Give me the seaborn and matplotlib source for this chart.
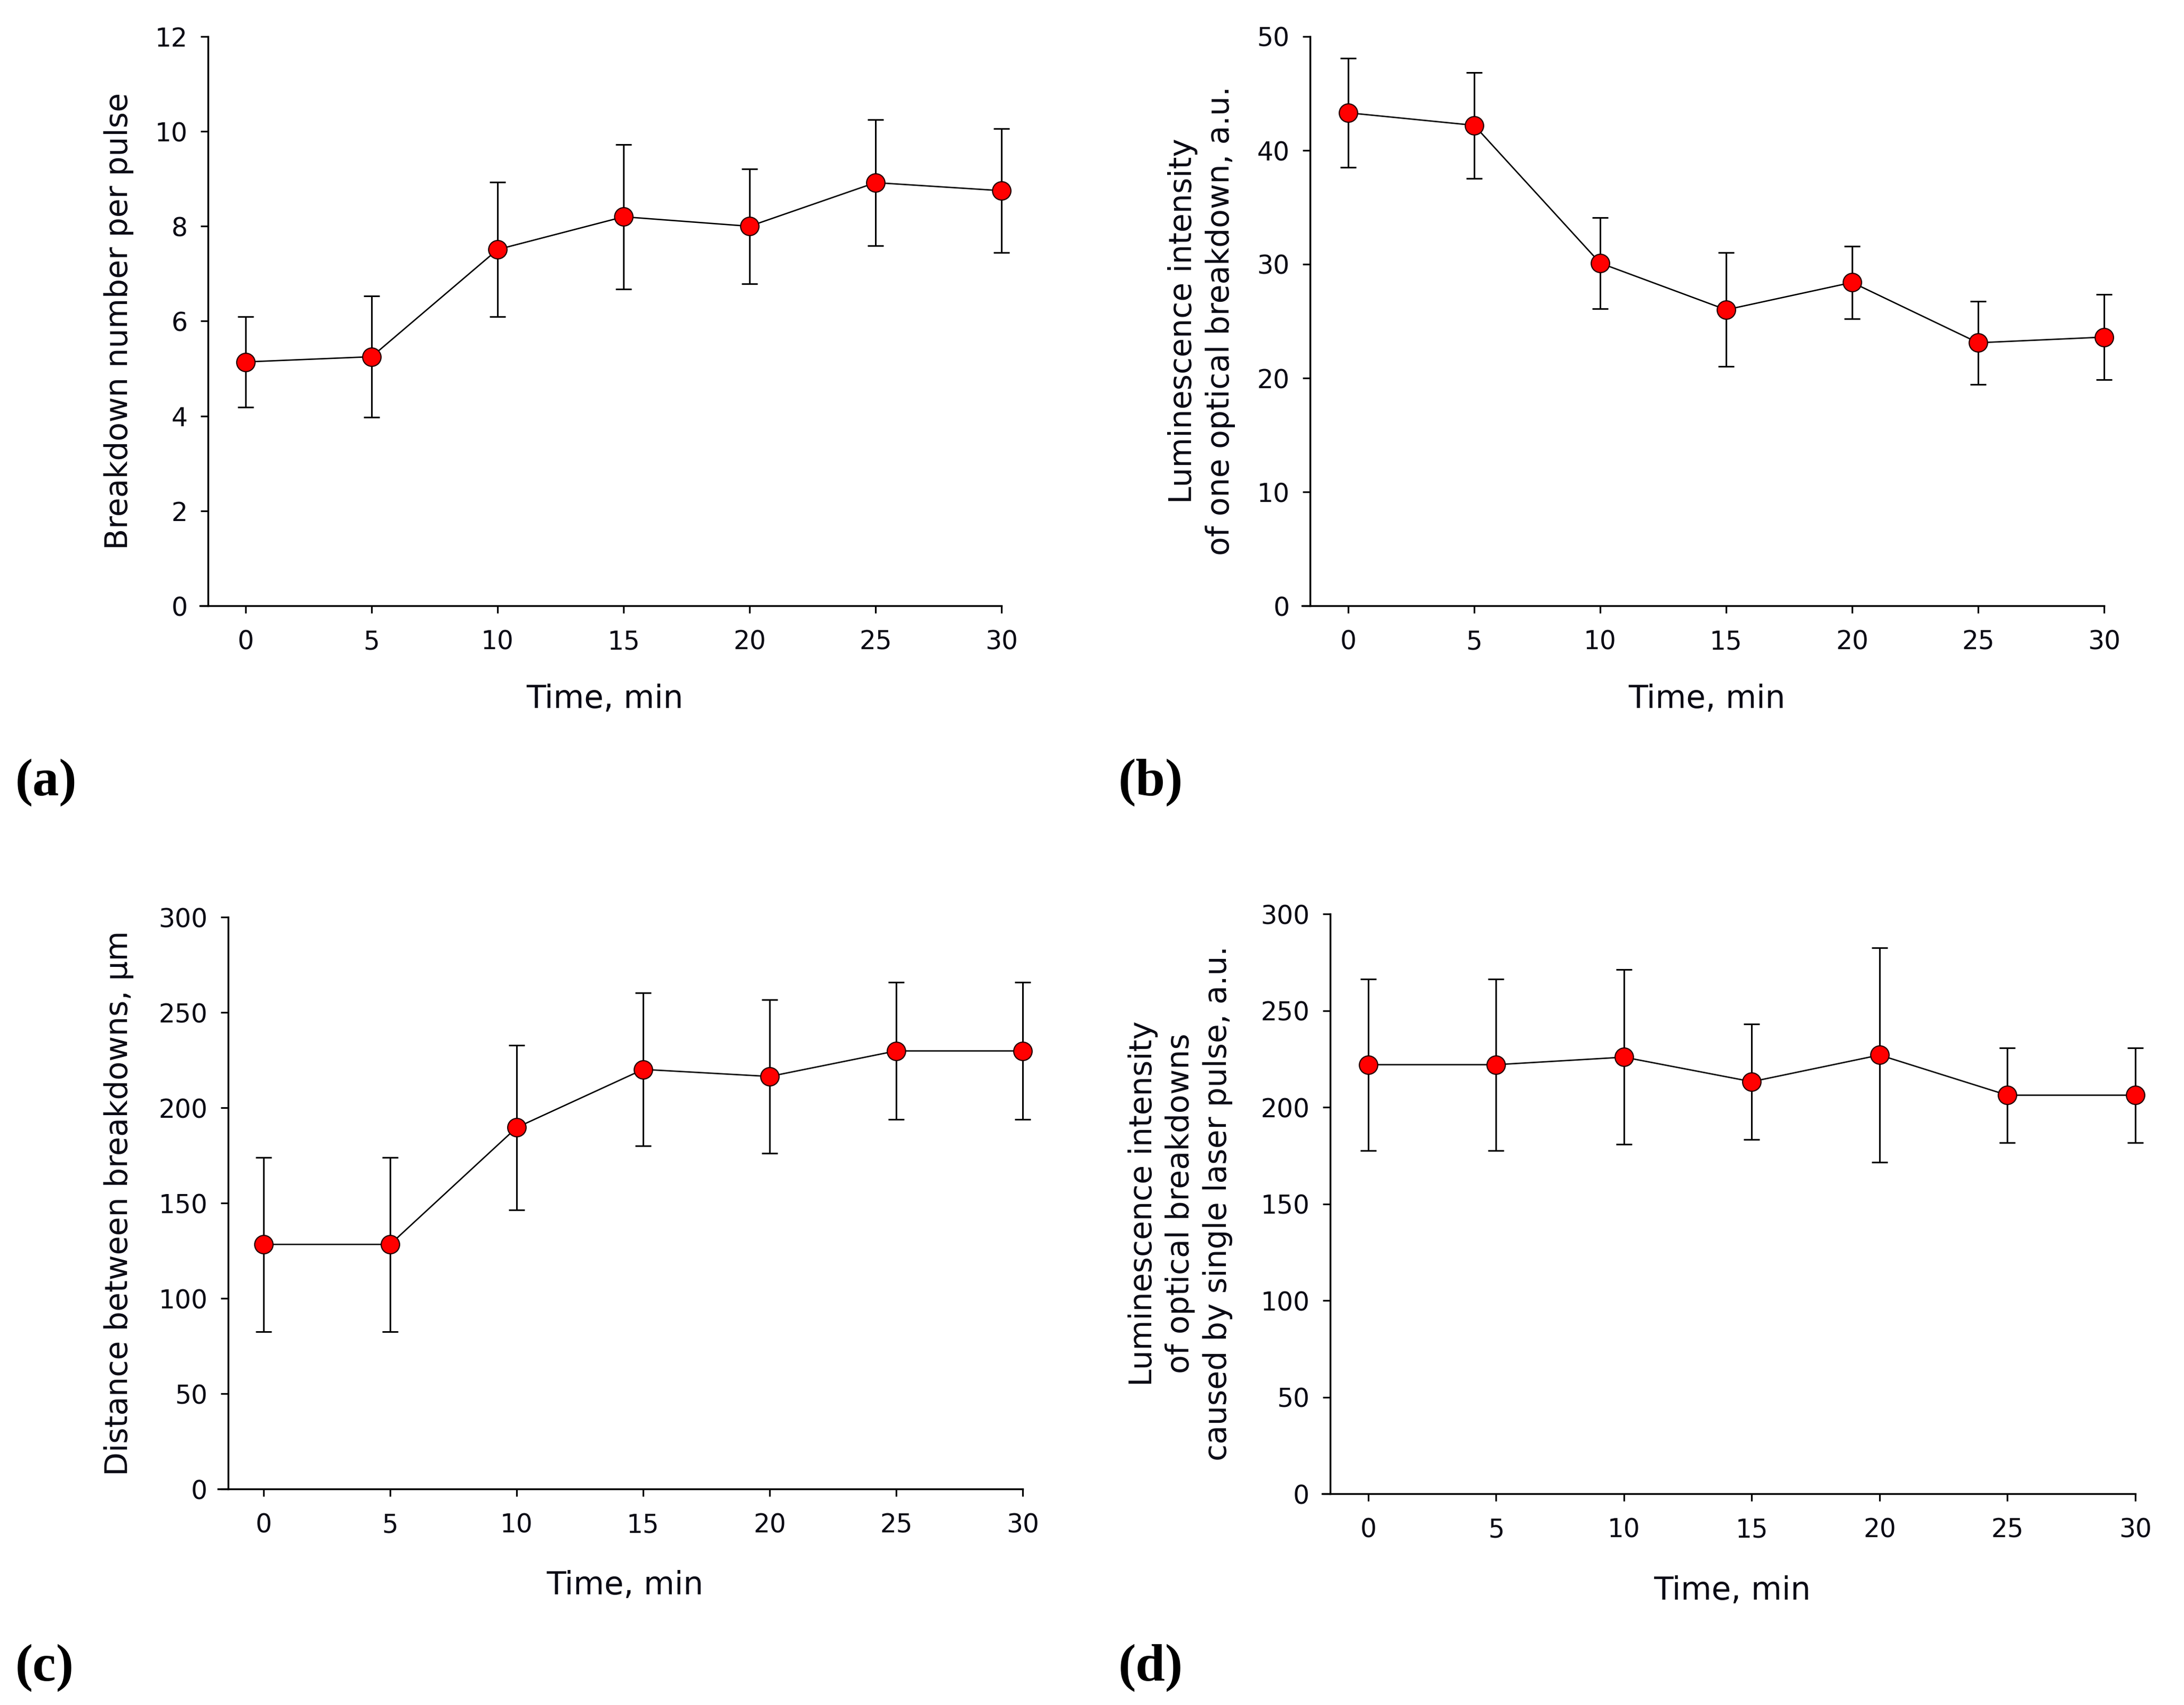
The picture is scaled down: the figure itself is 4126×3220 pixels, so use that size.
import numpy as np
import pandas as pd
import matplotlib
matplotlib.use("Agg")
import matplotlib.pyplot as plt
import seaborn as sns

# ---------------- data ----------------
time_min = [0, 5, 10, 15, 20, 25, 30]

a_mean = [5.14, 5.25, 7.51, 8.20, 8.00, 8.92, 8.75]
a_err = [0.95, 1.28, 1.42, 1.52, 1.21, 1.33, 1.31]

b_mean = [43.3, 42.2, 30.1, 26.0, 28.4, 23.1, 23.6]
b_err = [4.8, 4.65, 4.0, 5.0, 3.2, 3.65, 3.75]

c_mean = [128.3, 128.3, 189.6, 220.1, 216.4, 229.8, 229.8]
c_err = [45.7, 45.7, 43.2, 40.2, 40.2, 36.0, 36.0]

d_mean = [222.0, 222.0, 225.9, 213.2, 227.0, 206.2, 206.2]
d_err = [44.4, 44.4, 45.2, 29.9, 55.6, 24.6, 24.6]

x_ticks = [0, 5, 10, 15, 20, 25, 30]
a_yticks = [0, 2, 4, 6, 8, 10, 12]
b_yticks = [0, 10, 20, 30, 40, 50]
cd_yticks = [0, 50, 100, 150, 200, 250, 300]

xlabel = "Time, min"
a_ylabel = "Breakdown number per pulse"
b_ylabel = "Luminescence intensity\nof one optical breakdown, a.u."
c_ylabel = "Distance between breakdowns, \u00b5m"
d_ylabel = "Luminescence intensity\nof optical breakdowns\ncaused by single laser pulse, a.u."
panel_labels = ["(a)", "(b)", "(c)", "(d)"]

# ---------------- style ----------------
sns.set_style("ticks")
plt.rcParams["font.family"] = ["DejaVu Sans"]
TXT = "#0a0a14"

W, H = 4126, 3220
fig = plt.figure(figsize=(W / 100, H / 100), dpi=100)
fig.patch.set_facecolor("white")


def px_rect(left, right, top, bottom):
    return (left / W, 1 - bottom / H, (right - left) / W, (bottom - top) / H)


panels = [
    # rect, xlim-left, left-spine x, mean, err, yticks, ylabel, ylabel centre px, xlabel centre px
    (px_rect(378, 1892, 69, 1144), -1.81, -1.49, a_mean, a_err, a_yticks, a_ylabel,
     (225, 606), (1142, 1320)),
    (px_rect(2460, 3975, 69, 1144), -1.83, -1.51, b_mean, b_err, b_yticks, b_ylabel,
     (2270, 606), (3225, 1320)),
    (px_rect(412, 1932, 1732, 2812), -1.80, -1.40, c_mean, c_err, cd_yticks, c_ylabel,
     (225, 2272), (1181, 2994)),
    (px_rect(2498, 4034, 1726, 2821), -1.80, -1.49, d_mean, d_err, cd_yticks, d_ylabel,
     (2230, 2273), (3273, 3004)),
]

for rect, xl, spx, mean, err, yticks, ylab, ylc, xlc in panels:
    ax = fig.add_axes(rect)
    df = pd.DataFrame({"t": time_min, "v": mean, "e": err})
    ax.errorbar(df["t"], df["v"], yerr=df["e"], fmt="none", ecolor="black",
                elinewidth=2.2, capsize=10.5, capthick=2.2, zorder=2, clip_on=False)
    sns.lineplot(data=df, x="t", y="v", ax=ax, color="black", linewidth=1.9,
                 marker="o", markersize=25, markerfacecolor="#ff0000",
                 markeredgecolor="#200000", markeredgewidth=1.6,
                 zorder=3, clip_on=False)
    ax.set_xlim(xl, 30)
    ax.set_ylim(yticks[0], yticks[-1])
    ax.set_xticks(x_ticks)
    ax.set_yticks(yticks)
    ax.set_xticklabels([str(v) for v in x_ticks])
    ax.set_yticklabels([str(v) for v in yticks])
    for s in ["top", "right"]:
        ax.spines[s].set_visible(False)
    for s in ["left", "bottom"]:
        ax.spines[s].set_linewidth(2.5)
        ax.spines[s].set_color("black")
    ax.spines["left"].set_position(("data", spx))
    ax.tick_params(axis="both", direction="out", length=10, width=2.3,
                   colors="black", labelcolor=TXT, labelsize=35)
    ax.tick_params(axis="x", pad=22)
    ax.tick_params(axis="y", pad=18)
    ax.set_xlabel(xlabel, fontsize=43, color=TXT, va="center")
    ax.xaxis.set_label_coords(xlc[0] / W, 1 - xlc[1] / H, transform=fig.transFigure)
    ax.set_ylabel(ylab, fontsize=42, color=TXT, va="center", ha="center",
                  linespacing=1.3, multialignment="center")
    ax.yaxis.set_label_coords(ylc[0] / W, 1 - ylc[1] / H, transform=fig.transFigure)
    ax.grid(False)
    ax.set_facecolor("white")

label_pos = [(29 / W, 1 - 1478 / H), (2113 / W, 1 - 1478 / H),
             (29 / W, 1 - 3150 / H), (2113 / W, 1 - 3150 / H)]
for (x, y), lab in zip(label_pos, panel_labels):
    fig.text(x, y, lab, ha="left", va="center", fontsize=72, fontweight="bold",
             family=["Liberation Serif", "DejaVu Serif"], color="black")

fig.savefig("out.png", dpi=100, facecolor="white")
